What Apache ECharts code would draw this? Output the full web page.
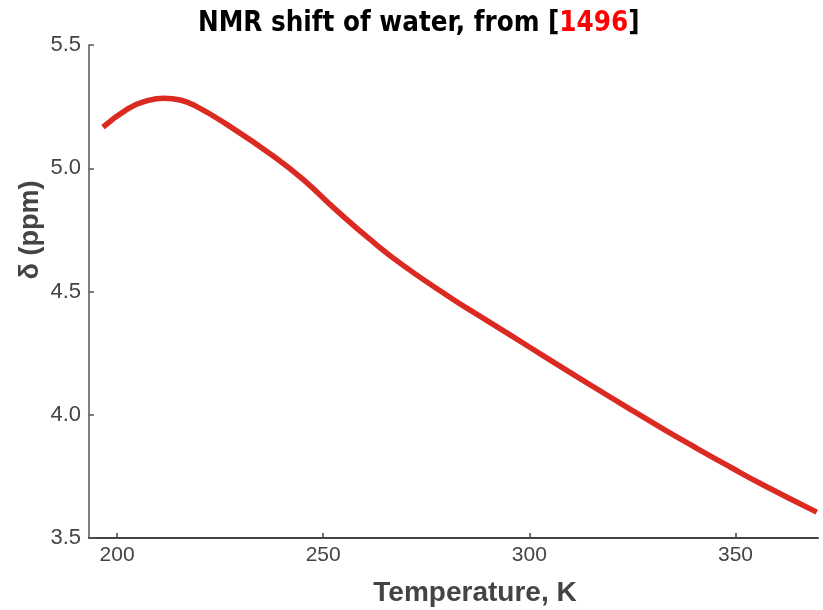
<!DOCTYPE html>
<html><head><meta charset="utf-8">
<script src="https://cdn.jsdelivr.net/npm/echarts@6/dist/echarts.min.js"></script>
<style>html,body{margin:0;padding:0;background:#fff}#c{width:823px;height:610px}</style>
</head><body><div id="c"></div>
<script>
const temperatures = [196.6, 202.7, 206.8, 211.5, 215.3, 218.9, 226.9, 238.3, 245.1, 253.3, 261.3, 269.3, 280.7, 287.5, 295.7, 303.7, 311.7, 324.3, 332.3, 340.6, 348.6, 356.6, 369.7];
const shifts =       [5.167, 5.242, 5.271, 5.284, 5.277, 5.254, 5.175, 5.045, 4.955, 4.828, 4.712, 4.607, 4.477, 4.405, 4.320, 4.236, 4.153, 4.024, 3.944, 3.864, 3.789, 3.716, 3.605];
const xTicks = [200, 250, 300, 350];

const chart = echarts.init(document.getElementById('c'));
chart.setOption({
  animation: false,
  backgroundColor: '#fff',
  title: {
    text: '{b|NMR shift of water, from [}{r|1496}{b|]}',
    left: 193, top: 5,
    textStyle: {
      rich: {
        b: {fontFamily: 'DejaVu Sans Condensed, DejaVu Sans', fontWeight: 'bold', fontSize: 27.5, color: '#000'},
        r: {fontFamily: 'DejaVu Sans Condensed, DejaVu Sans', fontWeight: 'bold', fontSize: 27.5, color: '#ff0000'}
      }
    }
  },
  grid: {left: 89, right: 5, top: 45, bottom: 72, containLabel: false},
  xAxis: {
    type: 'value', min: 193.2, max: 370,
    axisLine: {lineStyle: {color: '#444', width: 2}},
    axisTick: {show: true, inside: true, length: 5, customValues: xTicks, lineStyle: {color: '#444', width: 1.5}},
    axisLabel: {customValues: xTicks, color: '#444', fontFamily: 'Liberation Sans', fontSize: 21, margin: 7},
    splitLine: {show: false}
  },
  yAxis: {
    type: 'value', min: 3.5, max: 5.5, interval: 0.5,
    axisLine: {show: true, lineStyle: {color: '#555', width: 1.5}},
    axisTick: {show: true, inside: true, length: 5, lineStyle: {color: '#555', width: 1.5}},
    axisLabel: {color: '#444', fontFamily: 'Liberation Sans', fontSize: 22, margin: 8, formatter: v => v.toFixed(1)},
    splitLine: {show: false}
  },
  graphic: [
    {type: 'text', x: 475, y: 593, style: {text: 'Temperature, K', fill: '#444', font: 'bold 28px "Liberation Sans"', align: 'center', verticalAlign: 'middle'}},
    {type: 'text', x: 31, y: 230, rotation: Math.PI / 2,
     style: {text: 'δ (ppm)', fill: '#444', font: 'bold 27px "Liberation Sans"', align: 'center', verticalAlign: 'middle'}}
  ],
  series: [{
    type: 'line', smooth: 0.5, showSymbol: false,
    data: temperatures.map((t, i) => [t, shifts[i]]),
    lineStyle: {color: '#db2a22', width: 5.5}
  }]
});
</script></body></html>
